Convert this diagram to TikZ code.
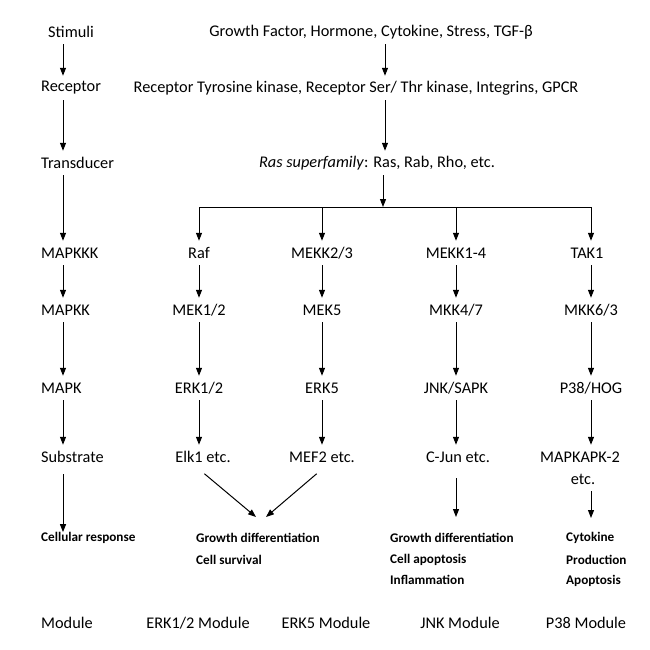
\documentclass[tikz,border=0pt]{standalone}
\usepackage{fontspec}
\setmainfont{Carlito}
\usetikzlibrary{arrows.meta,calc}
\begin{document}
\begin{tikzpicture}[x=1pt,y=-1pt,
  lbl/.style={font=\fontsize{16.3}{19}\selectfont, minimum height=24pt, inner sep=1pt},
  lw/.style={lbl, anchor=west, inner sep=0pt},
  outtxt/.style={font=\fontsize{13.2}{16}\selectfont\bfseries, anchor=west, inner sep=0pt},
  arr/.style={-{Triangle[width=6pt,length=8pt]}, line width=1pt},
  ln/.style={line width=1pt}]
\useasboundingbox (0,0) rectangle (650,650);
% column positions
\coordinate (c0) at (63,0);
\coordinate (cm) at (385,0);
\coordinate (br) at (383,207);
\coordinate (b1) at (199,207);
\coordinate (b2) at (322,207);
\coordinate (b3) at (456,207);
\coordinate (b4) at (591,207);
% left column
\node[lw] (stim) at (48,32) {Stimuli};
\node[lw] (rec) at (41,88) {Receptor};
\node[lw] (trans) at (41,163) {Transducer};
\node[lw] (mkkk) at (41,253) {MAPKKK};
\node[lw] (mkk) at (41,310) {MAPKK};
\node[lw] (mk) at (41,388) {MAPK};
\node[lw] (subs) at (41,457) {Substrate};
\node[outtxt] (resp) at (41,538) {Cellular response};
\node[lw] (mod) at (41,623) {Module};
\draw[arr] (stim.south -| c0) -- (rec.north -| c0);
\draw[arr] (rec.south -| c0) -- (trans.north -| c0);
\draw[arr] (trans.south -| c0) -- (mkkk.north -| c0);
\draw[arr] (mkkk.south -| c0) -- (mkk.north -| c0);
\draw[arr] (mkk.south -| c0) -- (mk.north -| c0);
\draw[arr] (mk.south -| c0) -- (subs.north -| c0);
\draw[arr,shorten <=5pt] (subs.south -| c0) -- (resp.north -| c0);
% main column
\node[lbl] (gf) at (371,32) {Growth Factor, Hormone, Cytokine, Stress, TGF-β};
\node[lbl] (recs) at (356,88) {Receptor Tyrosine kinase, Receptor Ser/ Thr kinase, Integrins, GPCR};
\node[lbl] (ras) at (377,163) {\textit{Ras superfamily}: Ras, Rab, Rho, etc.};
\draw[arr] (gf.south -| cm) -- (recs.north -| cm);
\draw[arr] (recs.south -| cm) -- (ras.north -| cm);
\draw[arr] (ras.south -| br) -- (br);
\draw[ln] (b1) -- (b4);
% MAPKKK row
\node[lbl] (raf) at (199,253) {Raf};
\node[lbl] (mekk23) at (322,253) {MEKK2/3};
\node[lbl] (mekk14) at (456,253) {MEKK1-4};
\node[lbl] (tak) at (587,253) {TAK1};
\draw[arr] (b1) -- (raf.north -| b1);
\draw[arr] (b2) -- (mekk23.north -| b2);
\draw[arr] (b3) -- (mekk14.north -| b3);
\draw[arr] (b4) -- (tak.north -| b4);
% MAPKK row
\node[lbl] (mek12) at (199,310) {MEK1/2};
\node[lbl] (mek5) at (322,310) {MEK5};
\node[lbl] (mkk47) at (456,310) {MKK4/7};
\node[lbl] (mkk63) at (591,310) {MKK6/3};
\draw[arr] (raf.south -| b1) -- (mek12.north -| b1);
\draw[arr] (mekk23.south -| b2) -- (mek5.north -| b2);
\draw[arr] (mekk14.south -| b3) -- (mkk47.north -| b3);
\draw[arr] (tak.south -| b4) -- (mkk63.north -| b4);
% MAPK row
\node[lbl] (erk12) at (199,388) {ERK1/2};
\node[lbl] (erk5) at (322,388) {ERK5};
\node[lbl] (jnk) at (456,388) {JNK/SAPK};
\node[lbl] (p38) at (591,388) {P38/HOG};
\draw[arr] (mek12.south -| b1) -- (erk12.north -| b1);
\draw[arr] (mek5.south -| b2) -- (erk5.north -| b2);
\draw[arr] (mkk47.south -| b3) -- (jnk.north -| b3);
\draw[arr] (mkk63.south -| b4) -- (p38.north -| b4);
% Substrate row
\node[lbl] (elk) at (203,457) {Elk1 etc.};
\node[lbl] (mef) at (322,457) {MEF2 etc.};
\node[lbl] (cjun) at (458,457) {C-Jun etc.};
\node[lbl] (mapkap) at (580,457) {MAPKAPK-2};
\node[lbl] (mapetc) at (583,479) {etc.};
\draw[arr] (erk12.south -| b1) -- (elk.north -| b1);
\draw[arr] (erk5.south -| b2) -- (mef.north -| b2);
\draw[arr] (jnk.south -| b3) -- (cjun.north -| b3);
\draw[arr] (p38.south -| b4) -- (mapkap.north -| b4);
% responses
\coordinate (t1) at (256,517);
\coordinate (t2) at (266,517);
\coordinate (tj) at (456,517);
\coordinate (tp) at (591,518);
\draw[arr,shorten <=7pt] (elk.south -| b1) -- (t1);
\draw[arr,shorten <=7pt] (mef.south -| b2) -- (t2);
\draw[arr,shorten <=9pt] (cjun.south -| b3) -- (tj);
\draw[arr] (mapetc.south -| b4) -- (tp);
\node[outtxt] (e1) at (196,538) {Growth differentiation};
\node[outtxt] (e2) at (196,560) {Cell survival};
\node[outtxt] (j1) at (390,538) {Growth differentiation};
\node[outtxt] (j2) at (390,560) {Cell apoptosis};
\node[outtxt] (j3) at (390,580) {Inflammation};
\node[outtxt] (p1) at (566,538) {Cytokine};
\node[outtxt] (p2) at (566,560) {Production};
\node[outtxt] (p3) at (566,581) {Apoptosis};
% modules
\node[lbl] (m1) at (198,623) {ERK1/2 Module};
\node[lbl] (m2) at (326,623) {ERK5 Module};
\node[lbl] (m3) at (460,623) {JNK Module};
\node[lbl] (m4) at (586,623) {P38 Module};
\end{tikzpicture}
\end{document}
